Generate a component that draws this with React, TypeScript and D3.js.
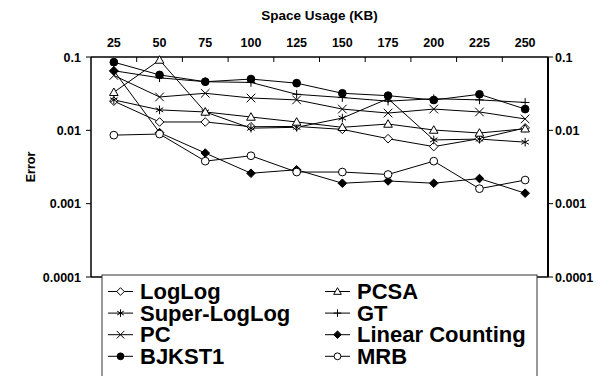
import React from "react";
import * as d3 from "d3";

const sizes = ["25", "50", "75", "100", "125", "150", "175", "200", "225", "250"];
const yTicks = [0.1, 0.01, 0.001, 0.0001];
const yTickLabels = ["0.1", "0.01", "0.001", "0.0001"];

const logLog = [0.025, 0.013, 0.013, 0.0112, 0.0113, 0.0103, 0.0077, 0.006, 0.0077, 0.0108];
const superLogLog = [0.026, 0.019, 0.0178, 0.0107, 0.011, 0.0147, 0.027, 0.0074, 0.0076, 0.0069];
const pc = [0.056, 0.0285, 0.032, 0.0276, 0.026, 0.0195, 0.0172, 0.0195, 0.0178, 0.0143];
const bjkst1 = [0.085, 0.057, 0.046, 0.05, 0.044, 0.032, 0.0297, 0.0259, 0.031, 0.0195];
const pcsa = [0.033, 0.091, 0.0178, 0.0152, 0.013, 0.011, 0.0122, 0.0101, 0.0092, 0.0105];
const gt = [0.065, 0.052, 0.046, 0.045, 0.031, 0.028, 0.025, 0.027, 0.026, 0.024];
const linearCounting = [0.065, 0.0093, 0.0049, 0.0026, 0.0029, 0.0019, 0.00204, 0.0019, 0.0022, 0.00139];
const mrb = [0.0086, 0.0089, 0.0038, 0.0045, 0.0027, 0.0027, 0.0025, 0.0038, 0.0016, 0.0021];

type Sym = "diamond" | "star" | "x" | "dot" | "tri" | "plus" | "fdiamond" | "circle";
const series: { name: string; values: number[]; sym: Sym }[] = [
  { name: "LogLog", values: logLog, sym: "diamond" },
  { name: "Super-LogLog", values: superLogLog, sym: "star" },
  { name: "PC", values: pc, sym: "x" },
  { name: "BJKST1", values: bjkst1, sym: "dot" },
  { name: "PCSA", values: pcsa, sym: "tri" },
  { name: "GT", values: gt, sym: "plus" },
  { name: "Linear Counting", values: linearCounting, sym: "fdiamond" },
  { name: "MRB", values: mrb, sym: "circle" },
];

const L = 91, R = 548, T = 57, B = 277;
const FONT = "'Liberation Sans', Arial, sans-serif";

function Marker({ sym, x, y, s }: { sym: Sym; x: number; y: number; s: number }) {
  const st = { stroke: "#000", strokeWidth: 1 };
  switch (sym) {
    case "diamond":
      return <path d={`M${x},${y - s}L${x + s},${y}L${x},${y + s}L${x - s},${y}Z`} fill="#fff" {...st} />;
    case "fdiamond":
      return <path d={`M${x},${y - s}L${x + s},${y}L${x},${y + s}L${x - s},${y}Z`} fill="#000" {...st} />;
    case "circle":
      return <circle cx={x} cy={y} r={s * 0.9} fill="#fff" {...st} />;
    case "dot":
      return <circle cx={x} cy={y} r={s * 0.9} fill="#000" {...st} />;
    case "tri":
      return <path d={`M${x},${y - s}L${x + s},${y + s * 0.75}L${x - s},${y + s * 0.75}Z`} fill="#fff" {...st} />;
    case "x":
      return <path d={`M${x - s},${y - s}L${x + s},${y + s}M${x - s},${y + s}L${x + s},${y - s}`} fill="none" {...st} />;
    case "plus":
      return <path d={`M${x - s},${y}L${x + s},${y}M${x},${y - s}L${x},${y + s}`} fill="none" {...st} />;
    case "star":
      return (
        <path
          d={`M${x},${y - s}L${x},${y + s}M${x - s * 0.87},${y - s * 0.5}L${x + s * 0.87},${y + s * 0.5}M${x - s * 0.87},${y + s * 0.5}L${x + s * 0.87},${y - s * 0.5}`}
          fill="none"
          {...st}
        />
      );
  }
  return null;
}

export default function App() {
  const x = d3.scaleBand<string>().domain(sizes).range([L, R]);
  const cx = (c: string) => (x(c) as number) + x.bandwidth() / 2;
  const y = d3.scaleLog().domain([0.0001, 0.1]).range([B, T]);
  const line = d3
    .line<number>()
    .x((_, i) => cx(sizes[i]))
    .y((d) => y(d));

  const legendRows = [0, 1, 2, 3];
  return (
    <svg width={607} height={376} style={{ position: "absolute", left: 0, top: 0, background: "#fff" }} fontFamily={FONT}>
      <rect width={607} height={376} fill="#fff" />
      <text x={(L + R) / 2} y={20} textAnchor="middle" fontWeight="bold" fontSize={13.5}>
        Space Usage (KB)
      </text>
      {sizes.map((s) => (
        <text key={s} x={cx(s)} y={46.5} textAnchor="middle" fontWeight="bold" fontSize={12.5}>
          {s}
        </text>
      ))}
      {/* frame */}
      <line x1={L} x2={R} y1={T} y2={T} stroke="#000" strokeWidth={1.5} />
      <line x1={L} x2={L} y1={T} y2={B} stroke="#000" strokeWidth={1.5} />
      <line x1={R} x2={R} y1={T} y2={B} stroke="#000" strokeWidth={2} />
      <line x1={L} x2={R} y1={B} y2={B} stroke="#000" strokeWidth={1.5} />
      {sizes.slice(1).map((s) => (
        <line key={s} x1={x(s) as number} x2={x(s) as number} y1={T} y2={T + 5} stroke="#000" strokeWidth={1} />
      ))}
      {yTicks.map((t, i) => (
        <g key={t}>
          <line x1={L - 5} x2={L} y1={y(t)} y2={y(t)} stroke="#000" strokeWidth={1} />
          <line x1={R} x2={R + 5} y1={y(t)} y2={y(t)} stroke="#000" strokeWidth={1} />
          <text x={L - 10} y={y(t) + 4.5} textAnchor="end" fontWeight="bold" fontSize={12.5}>
            {yTickLabels[i]}
          </text>
          <text x={R + 7} y={y(t) + 4.5} textAnchor="start" fontWeight="bold" fontSize={12.5}>
            {yTickLabels[i]}
          </text>
        </g>
      ))}
      <text transform={`translate(35,${(T + B) / 2}) rotate(-90)`} textAnchor="middle" fontWeight="bold" fontSize={12.5}>
        Error
      </text>
      {series.map((s) => (
        <path key={s.name} d={line(s.values) as string} fill="none" stroke="#000" strokeWidth={1} />
      ))}
      {series.map((s) => (
        <g key={s.name}>
          {s.values.map((v, i) => (
            <Marker key={i} sym={s.sym} x={cx(sizes[i])} y={y(v)} s={4.3} />
          ))}
        </g>
      ))}
      {/* legend */}
      <rect x={102} y={275} width={435} height={110} fill="#fff" stroke="#333" strokeWidth={1} />
      {series.map((s, i) => {
        const col = Math.floor(i / 4);
        const row = legendRows[i % 4];
        const base = 299 + row * 21.6;
        const sx = col === 0 ? 108 : 325;
        const tx = col === 0 ? 140 : 357;
        const my = base - 7.5;
        return (
          <g key={s.name}>
            <line x1={sx} x2={sx + 25} y1={my} y2={my} stroke="#000" strokeWidth={1} />
            <Marker sym={s.sym} x={sx + 12.5} y={my} s={3.8} />
            <text x={tx} y={base} fontWeight="bold" fontSize={22}>
              {s.name}
            </text>
          </g>
        );
      })}
    </svg>
  );
}
